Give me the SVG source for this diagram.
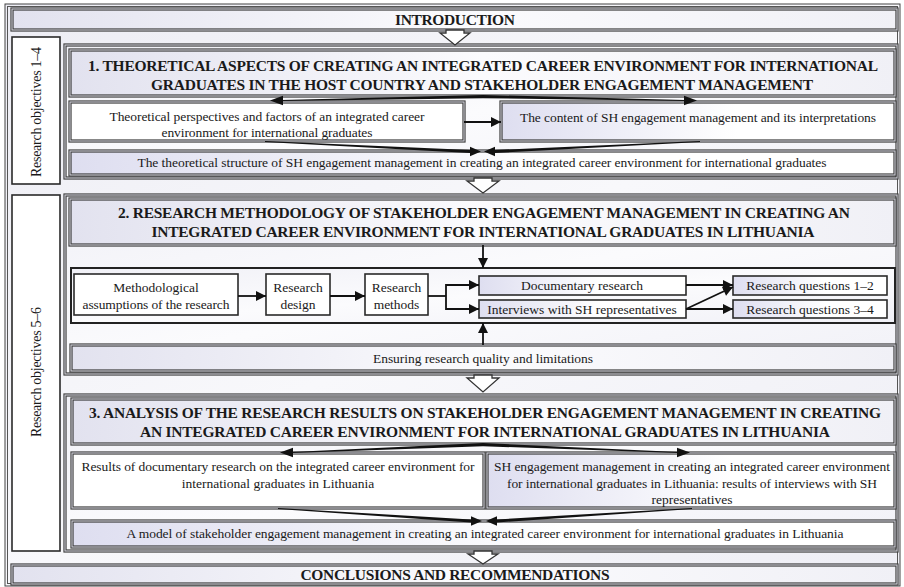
<svg xmlns="http://www.w3.org/2000/svg" width="904" height="587" viewBox="0 0 904 587">
  <defs>
    <linearGradient id="gPage" x1="0" y1="0" x2="1" y2="1">
      <stop offset="0" stop-color="#ededf4"/>
      <stop offset="0.5" stop-color="#f8f8fb"/>
      <stop offset="1" stop-color="#eeeef5"/>
    </linearGradient>
    <linearGradient id="gHead" x1="0" y1="0" x2="1" y2="0">
      <stop offset="0" stop-color="#e2e2ef"/>
      <stop offset="0.5" stop-color="#fbfbfd"/>
      <stop offset="1" stop-color="#f0f0f6"/>
    </linearGradient>
    <linearGradient id="gBox" x1="0" y1="0" x2="1" y2="0">
      <stop offset="0" stop-color="#dedef0"/>
      <stop offset="0.6" stop-color="#ffffff"/>
      <stop offset="1" stop-color="#ffffff"/>
    </linearGradient>
    <linearGradient id="gSec" x1="0" y1="0" x2="1" y2="1">
      <stop offset="0" stop-color="#f1f1f7"/>
      <stop offset="0.5" stop-color="#fbfbfd"/>
      <stop offset="1" stop-color="#f1f1f7"/>
    </linearGradient>
    <marker id="ah" viewBox="0 0 10 10" refX="10" refY="5" markerWidth="11" markerHeight="10" markerUnits="userSpaceOnUse" orient="auto">
      <path d="M0,0 L10,5 L0,10 z" fill="#111"/>
    </marker>
  </defs>
  <style>
    text { font-family: "Liberation Serif", "Times New Roman", serif; fill: #1a1a1a; }
    .t { font-size: 13.5px; }
    .tc { font-size: 13.5px; text-anchor: middle; }
    .side { font-size: 14px; text-anchor: middle; }
    .h { font-size: 15.5px; font-weight: bold; text-anchor: middle; }
    .dblO { fill: none; stroke: #3a3a3a; stroke-width: 3.2; }
    .dblI { fill: none; stroke: #cfcfd8; stroke-width: 1.1; }
    .single { stroke: #2a2a2a; stroke-width: 1.6; }
    .link { fill: none; stroke: #111; stroke-width: 1.8; marker-end: url(#ah); }
    .plain { fill: none; stroke: #111; stroke-width: 1.8; }
    .wedge { fill: #111; }
    .hollow { fill: #ffffff; stroke: #333; stroke-width: 1.3; stroke-linejoin: miter; }
  </style>

  <!-- page frame -->
  <rect x="0" y="0" width="904" height="587" fill="#ffffff"/>
  <rect x="5" y="4" width="895" height="582" fill="url(#gPage)"/>
  <rect x="5" y="4" width="895" height="582" fill="none" stroke="#444" stroke-width="1"/>
  <rect x="7.5" y="6.5" width="890" height="577" fill="none" stroke="#555" stroke-width="1"/>

  <!-- introduction -->
  <g id="intro">
    <rect x="12" y="9" width="885" height="21" fill="url(#gHead)"/>
    <rect x="12" y="9" width="885" height="21" class="dblO"/>
    <rect x="12" y="9" width="885" height="21" class="dblI"/>
    <text x="455" y="25" class="h" font-size="14.5" textLength="120">INTRODUCTION</text>
  </g>

  <!-- research objectives columns -->
  <g id="objectives-1-4">
    <rect x="12" y="37" width="48" height="147" fill="#ffffff" class="single"/>
    <text class="side" transform="translate(41,112) rotate(-90)" textLength="130">Research objectives 1–4</text>
  </g>
  <g id="objectives-5-6">
    <rect x="12" y="195" width="48" height="356" fill="#ffffff" class="single"/>
    <text class="side" transform="translate(41,372) rotate(-90)" textLength="130">Research objectives 5–6</text>
  </g>

  <!-- section 1 -->
  <g id="section1">
    <rect x="65" y="45" width="832" height="133" fill="url(#gSec)"/>
    <rect x="65" y="45" width="832" height="133" class="dblO"/>
    <rect x="65" y="45" width="832" height="133" class="dblI"/>
  </g>
  <g id="s1-heading">
    <rect x="70" y="50" width="825" height="46" fill="url(#gHead)"/>
    <rect x="70" y="50" width="825" height="46" class="dblO"/>
    <rect x="70" y="50" width="825" height="46" class="dblI"/>
    <text x="483" y="71" class="h" textLength="790">1. THEORETICAL ASPECTS OF CREATING AN INTEGRATED CAREER ENVIRONMENT FOR INTERNATIONAL</text>
    <text x="482" y="90" class="h" textLength="662">GRADUATES IN THE HOST COUNTRY AND STAKEHOLDER ENGAGEMENT MANAGEMENT</text>
  </g>
  <g id="s1-perspectives">
    <rect x="70" y="102" width="394" height="39" fill="#ffffff"/>
    <rect x="70" y="102" width="394" height="39" class="dblO"/>
    <rect x="70" y="102" width="394" height="39" class="dblI"/>
    <text x="267" y="121" class="tc" textLength="315">Theoretical perspectives and factors of an integrated career</text>
    <text x="267" y="137" class="tc" textLength="211">environment for international graduates</text>
  </g>
  <g id="s1-content">
    <rect x="501" y="102" width="394" height="39" fill="url(#gBox)"/>
    <rect x="501" y="102" width="394" height="39" class="dblO"/>
    <rect x="501" y="102" width="394" height="39" class="dblI"/>
    <text x="698" y="122" class="tc" textLength="356">The content of SH engagement management and its interpretations</text>
  </g>
  <g id="s1-structure">
    <rect x="70" y="151" width="825" height="24" fill="url(#gBox)"/>
    <rect x="70" y="151" width="825" height="24" class="dblO"/>
    <rect x="70" y="151" width="825" height="24" class="dblI"/>
    <text x="482" y="167" class="tc" textLength="689">The theoretical structure of SH engagement management in creating an integrated career environment for international graduates</text>
  </g>

  <!-- section 2 -->
  <g id="section2">
    <rect x="65" y="195" width="832" height="179" fill="url(#gSec)"/>
    <rect x="65" y="195" width="832" height="179" class="dblO"/>
    <rect x="65" y="195" width="832" height="179" class="dblI"/>
  </g>
  <g id="s2-heading">
    <rect x="70" y="199" width="825" height="46" fill="url(#gHead)"/>
    <rect x="70" y="199" width="825" height="46" class="dblO"/>
    <rect x="70" y="199" width="825" height="46" class="dblI"/>
    <text x="484" y="218" class="h" textLength="732">2. RESEARCH METHODOLOGY OF STAKEHOLDER ENGAGEMENT MANAGEMENT IN CREATING AN</text>
    <text x="483" y="237" class="h" textLength="663">INTEGRATED CAREER ENVIRONMENT FOR INTERNATIONAL GRADUATES IN LITHUANIA</text>
  </g>
  <g id="s2-methods-row">
    <rect x="71" y="268" width="824" height="55" fill="url(#gSec)" stroke="#222" stroke-width="2"/>
  </g>
  <g id="s2-assumptions">
    <rect x="74" y="274" width="164" height="41" fill="#ffffff" class="single"/>
    <text x="156" y="292" class="tc">Methodological</text>
    <text x="156" y="309" class="tc" textLength="147">assumptions of the research</text>
  </g>
  <g id="s2-design">
    <rect x="266" y="274" width="64" height="41" fill="#ffffff" class="single"/>
    <text x="298" y="292" class="tc">Research</text>
    <text x="298" y="309" class="tc">design</text>
  </g>
  <g id="s2-methods">
    <rect x="365" y="274" width="63" height="41" fill="#ffffff" class="single"/>
    <text x="396.5" y="292" class="tc">Research</text>
    <text x="396.5" y="309" class="tc">methods</text>
  </g>
  <g id="s2-documentary">
    <rect x="479" y="276" width="207" height="19" fill="url(#gBox)" class="single"/>
    <text x="582" y="290" class="tc">Documentary research</text>
  </g>
  <g id="s2-interviews">
    <rect x="479" y="300" width="207" height="18" fill="url(#gBox)" class="single"/>
    <text x="582" y="313.5" class="tc">Interviews with SH representatives</text>
  </g>
  <g id="s2-rq12">
    <rect x="733" y="276" width="154" height="19" fill="url(#gBox)" class="single"/>
    <text x="810" y="290" class="tc">Research questions 1–2</text>
  </g>
  <g id="s2-rq34">
    <rect x="733" y="300" width="154" height="18" fill="url(#gBox)" class="single"/>
    <text x="810" y="313.5" class="tc">Research questions 3–4</text>
  </g>
  <g id="s2-quality">
    <rect x="71" y="345" width="824" height="26" fill="url(#gHead)"/>
    <rect x="71" y="345" width="824" height="26" class="dblO"/>
    <rect x="71" y="345" width="824" height="26" class="dblI"/>
    <text x="483" y="363" class="tc" textLength="220">Ensuring research quality and limitations</text>
  </g>

  <!-- section 3 -->
  <g id="section3">
    <rect x="65" y="395" width="832" height="156" fill="url(#gSec)"/>
    <rect x="65" y="395" width="832" height="156" class="dblO"/>
    <rect x="65" y="395" width="832" height="156" class="dblI"/>
  </g>
  <g id="s3-heading">
    <rect x="72" y="399" width="823" height="45" fill="url(#gHead)"/>
    <rect x="72" y="399" width="823" height="45" class="dblO"/>
    <rect x="72" y="399" width="823" height="45" class="dblI"/>
    <text x="485" y="418" class="h" textLength="792">3. ANALYSIS OF THE RESEARCH RESULTS ON STAKEHOLDER ENGAGEMENT MANAGEMENT IN CREATING</text>
    <text x="485" y="437" class="h" textLength="690">AN INTEGRATED CAREER ENVIRONMENT FOR INTERNATIONAL GRADUATES IN LITHUANIA</text>
  </g>
  <g id="s3-documentary-results">
    <rect x="72" y="453" width="412" height="55" fill="#ffffff"/>
    <rect x="72" y="453" width="412" height="55" class="dblO"/>
    <rect x="72" y="453" width="412" height="55" class="dblI"/>
    <text x="278" y="471" class="tc" textLength="393">Results of documentary research on the integrated career environment for</text>
    <text x="278" y="488" class="tc">international graduates in Lithuania</text>
  </g>
  <g id="s3-interview-results">
    <rect x="487" y="453" width="408" height="55" fill="url(#gBox)"/>
    <rect x="487" y="453" width="408" height="55" class="dblO"/>
    <rect x="487" y="453" width="408" height="55" class="dblI"/>
    <text x="692" y="471" class="tc" textLength="396">SH engagement management in creating an integrated career environment</text>
    <text x="692" y="488" class="tc" textLength="370">for international graduates in Lithuania: results of interviews with SH</text>
    <text x="692" y="504" class="tc">representatives</text>
  </g>
  <g id="s3-model">
    <rect x="72" y="521" width="823" height="26" fill="url(#gBox)"/>
    <rect x="72" y="521" width="823" height="26" class="dblO"/>
    <rect x="72" y="521" width="823" height="26" class="dblI"/>
    <text x="485" y="538" class="tc" textLength="717">A model of stakeholder engagement management in creating an integrated career environment for international graduates in Lithuania</text>
  </g>

  <!-- conclusions -->
  <g id="conclusions">
    <rect x="12" y="565" width="885" height="19" fill="url(#gHead)"/>
    <rect x="12" y="565" width="885" height="19" class="dblO"/>
    <rect x="12" y="565" width="885" height="19" class="dblI"/>
    <text x="455" y="580" class="h" font-size="14.5" textLength="309">CONCLUSIONS AND RECOMMENDATIONS</text>
  </g>

  <!-- connectors -->
  <g id="connectors">
    <!-- hollow block arrows between stages -->
    <polygon class="hollow" points="446,30 464,30 464,33 470,33 455,45 440,33 446,33"/>
    <polygon class="hollow" points="474,178 492,178 492,181 499,181 483,193 467,181 474,181"/>
    <polygon class="hollow" points="474,375 492,375 492,378 499,378 483,392 467,378 474,378"/>
    <polygon class="hollow" points="474,551 492,551 492,554 498,554 483,564 468,554 474,554"/>

    <!-- section 1: heading fans out to both topics -->
    <polygon class="wedge" points="483,95 483,98.2 282,101.1 282,100"/>
    <polygon class="wedge" points="270,100.5 283,95.8 283,105.2"/>
    <polygon class="wedge" points="483,95 483,98.2 685,101.1 685,100"/>
    <polygon class="wedge" points="697,100.5 684,95.8 684,105.2"/>
    <!-- section 1: topic to topic -->
    <line class="link" x1="464" y1="122" x2="501" y2="122"/>
    <!-- section 1: topics converge on the structure -->
    <polygon class="wedge" points="265,141 265,142 470,153 470,150"/>
    <polygon class="wedge" points="481,151.5 470,146.8 470,156.2"/>
    <polygon class="wedge" points="700,141 700,142 495,153 495,150"/>
    <polygon class="wedge" points="484,151.5 495,146.8 495,156.2"/>

    <!-- section 2 -->
    <line class="link" x1="483" y1="245" x2="483" y2="268"/>
    <line class="link" x1="483" y1="345" x2="483" y2="323"/>
    <line class="link" x1="238" y1="296" x2="266" y2="296"/>
    <line class="link" x1="330" y1="296" x2="365" y2="296"/>
    <polyline class="plain" points="428,296 446,296"/>
    <polyline class="link" points="446,296 446,285 479,285"/>
    <polyline class="link" points="446,296 446,309 479,309"/>
    <line class="link" x1="686" y1="285" x2="733" y2="285"/>
    <line class="link" x1="686" y1="309" x2="733" y2="309"/>
    <line class="link" x1="686" y1="309" x2="733" y2="287"/>

    <!-- section 3: heading fans out -->
    <polygon class="wedge" points="483,443 483,446.2 292,453.1 292,452"/>
    <polygon class="wedge" points="280,452.5 293,447.8 293,457.2"/>
    <polygon class="wedge" points="483,443 483,446.2 678,453.1 678,452"/>
    <polygon class="wedge" points="690,452.5 677,447.8 677,457.2"/>
    <!-- section 3: results converge on the model -->
    <polygon class="wedge" points="278,508 278,509 471,522.5 471,519.5"/>
    <polygon class="wedge" points="482,521 471,516.3 471,525.7"/>
    <polygon class="wedge" points="692,508 692,509 497,522.5 497,519.5"/>
    <polygon class="wedge" points="486,521 497,516.3 497,525.7"/>
  </g>
</svg>
